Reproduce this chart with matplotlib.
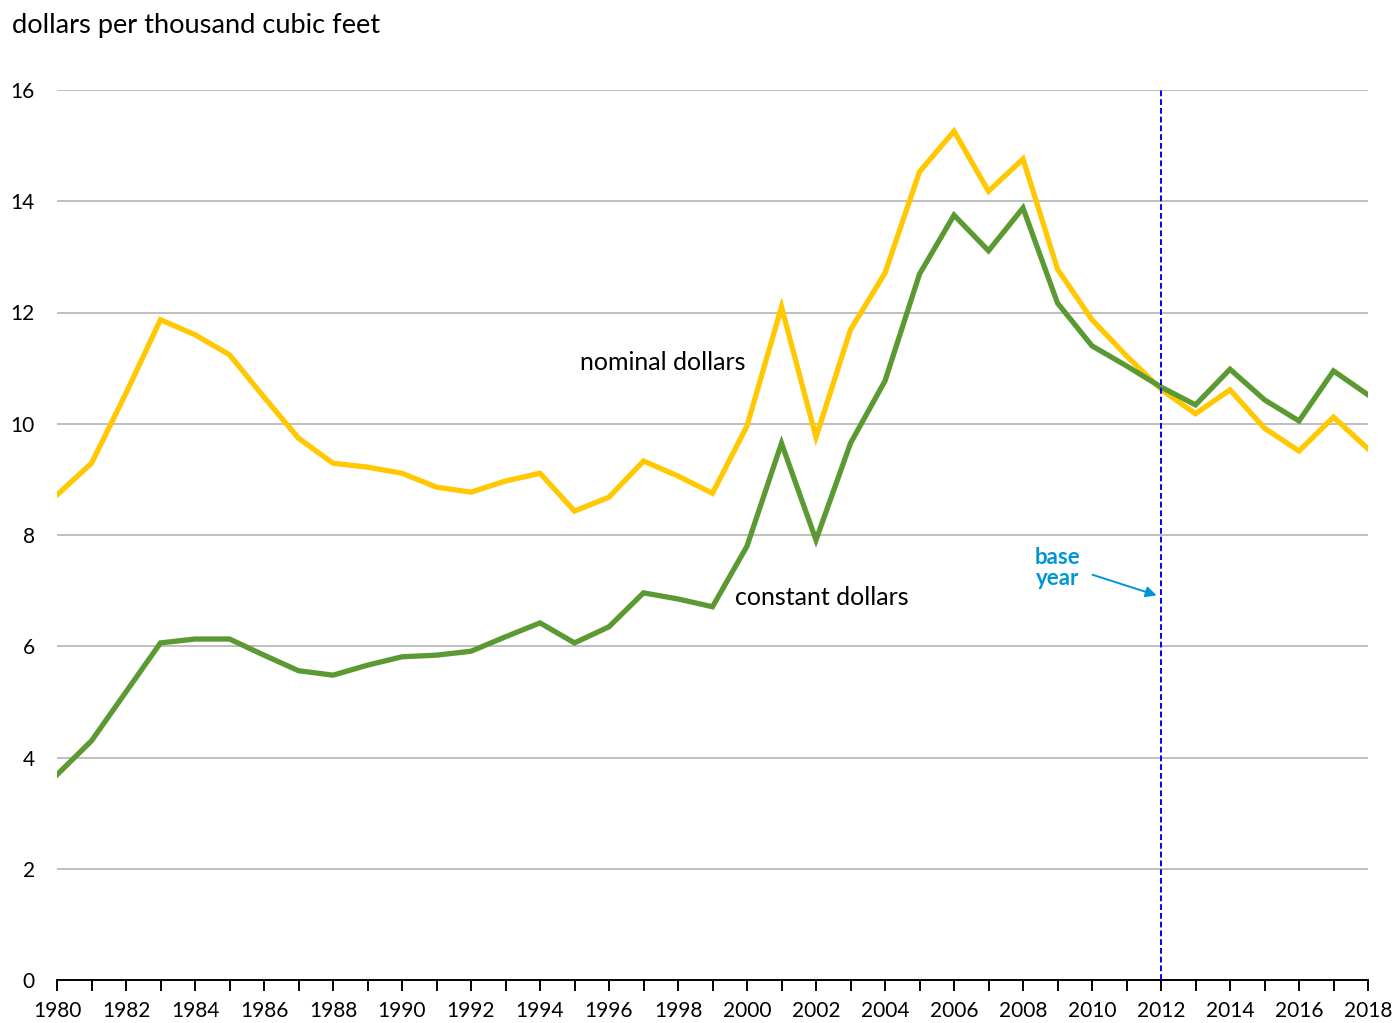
import matplotlib
matplotlib.use("Agg")
import matplotlib.pyplot as plt

years = list(range(1980, 2019))
nominal = [8.72, 9.29, 10.55, 11.87, 11.60, 11.24, 10.48, 9.74, 9.29, 9.22,
           9.11, 8.86, 8.77, 8.97, 9.11, 8.43, 8.68, 9.33, 9.06, 8.75,
           9.96, 12.10, 9.76, 11.69, 12.71, 14.53, 15.26, 14.18, 14.76, 12.78,
           11.87, 11.22, 10.62, 10.18, 10.61, 9.92, 9.51, 10.12, 9.55]
constant = [3.69, 4.30, 5.18, 6.06, 6.13, 6.13, 5.84, 5.56, 5.48, 5.66,
            5.81, 5.84, 5.91, 6.17, 6.42, 6.06, 6.35, 6.96, 6.85, 6.71,
            7.80, 9.65, 7.91, 9.65, 10.77, 12.69, 13.75, 13.11, 13.88, 12.17,
            11.40, 11.04, 10.66, 10.34, 10.98, 10.43, 10.05, 10.95, 10.52]
base_year = 2012
y_ticks = [0, 2, 4, 6, 8, 10, 12, 14, 16]
x_labels = list(range(1980, 2019, 2))

plt.rcParams['font.family'] = ['Lato', 'DejaVu Sans']

fig = plt.figure(figsize=(13.99, 10.23), dpi=100)
ax = fig.add_axes([57/1399, 1 - 980/1023, (1368-57)/1399, (980-90)/1023])

ax.set_xlim(1980, 2018)
ax.set_ylim(0, 16)

for t in y_ticks[1:]:
    ax.axhline(t, color='#bfbfbf', lw=1.4, zorder=1)

ax.plot(years, nominal, color='#FFC800', lw=3.8, zorder=3, solid_joinstyle='miter')
ax.plot(years, constant, color='#5B9A32', lw=3.8, zorder=4, solid_joinstyle='miter')

ax.axvline(base_year, color='#0000FF', lw=1.4, ls=(0, (3, 1.5)), zorder=5)

for s in ['left', 'right', 'top']:
    ax.spines[s].set_visible(False)
ax.spines['bottom'].set_color('black')
ax.spines['bottom'].set_linewidth(1.4)

ax.set_yticks(y_ticks)
ax.set_yticklabels([str(t) for t in y_ticks], fontsize=15)
ax.tick_params(axis='y', length=0, pad=16)
ax.set_xticks(years, minor=True)
ax.set_xticks(x_labels)
ax.set_xticklabels([str(x) for x in x_labels], fontsize=15)
ax.tick_params(axis='x', which='both', direction='out', length=8, width=1.4, color='black', pad=7)
ax.tick_params(axis='x', which='minor', length=8)

fig.text(12/1399, 1 - 26/1023, 'dollars per thousand cubic feet', fontsize=19.6,
         ha='left', va='center')

ax.text(1997.57, 11.11, 'nominal dollars', fontsize=18, ha='center', va='center')
ax.text(2002.17, 6.87, 'constant dollars', fontsize=18, ha='center', va='center')
ax.text(2008.99, 7.41, 'base\nyear', fontsize=16, fontweight='bold', color='#0096D6',
        ha='center', va='center', linespacing=1.0)
ax.annotate('', xy=(2011.95, 6.90), xytext=(2009.94, 7.30),
            arrowprops=dict(arrowstyle='-|>', color='#0096D6', lw=1.4, mutation_scale=16))

fig.savefig('out.png', dpi=100)
